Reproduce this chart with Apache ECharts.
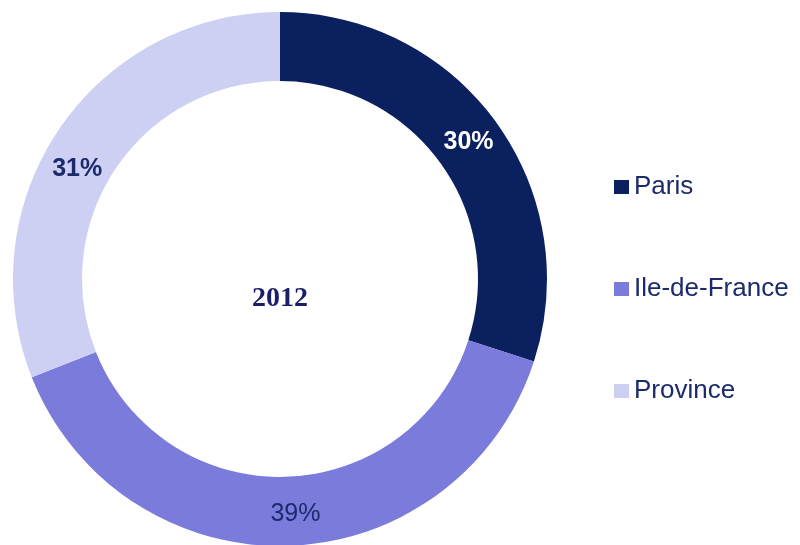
<!DOCTYPE html>
<html>
<head>
<meta charset="utf-8">
<script src="https://cdn.jsdelivr.net/npm/echarts@6/dist/echarts.min.js"></script>
<style>
html,body{margin:0;padding:0;background:#fff;}
#c{width:800px;height:545px;}
</style>
</head>
<body>
<div id="c"></div>
<script>
const categories = ['Paris', 'Ile-de-France', 'Province'];
const values = [30, 39, 31];
const colors = ['#0b205e', '#7b7bdc', '#cdd0f2'];
const labelColors = ['#ffffff', '#1b2a6b', '#1b2a6b'];
const labelWeights = ['bold', 'normal', 'bold'];
const labelOffsets = [[-2, 2], [8, 0], [-8, 22]];
const centerText = '2012';

const chart = echarts.init(document.getElementById('c'), null, {renderer: 'canvas'});
chart.setOption({
  backgroundColor: '#ffffff',
  animation: false,
  legend: {
    orient: 'vertical',
    left: 614,
    top: 174,
    padding: 0,
    itemWidth: 15,
    itemHeight: 14,
    itemGap: 76,
    icon: 'rect',
    data: categories,
    textStyle: {
      fontFamily: 'Liberation Sans, Arial, sans-serif',
      fontSize: 26,
      lineHeight: 26,
      color: '#1b2a6b'
    }
  },
  graphic: [{
    type: 'text',
    left: 252,
    top: 285,
    style: {
      text: centerText,
      font: 'bold 28px "Liberation Serif", "Times New Roman", serif',
      fill: '#1b1f6b'
    }
  }],
  series: [{
    type: 'pie',
    center: [280, 279],
    radius: [198, 267],
    startAngle: 90,
    clockwise: true,
    avoidLabelOverlap: false,
    emphasis: {disabled: true},
    label: {
      show: true,
      position: 'inside',
      formatter: '{c}%',
      fontFamily: 'Liberation Sans, Arial, sans-serif',
      fontSize: 25
    },
    labelLine: {show: false},
    data: categories.map((n, i) => ({
      name: n,
      value: values[i],
      itemStyle: {color: colors[i]},
      label: {color: labelColors[i], fontWeight: labelWeights[i], offset: labelOffsets[i]}
    }))
  }]
});
</script>
</body>
</html>
